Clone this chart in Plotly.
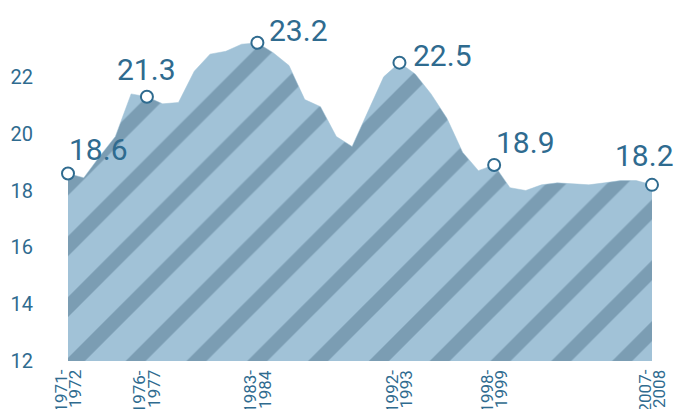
import plotly.graph_objects as go

# ---- data ----
periods = [
    "1971-1972", "1972-1973", "1973-1974", "1974-1975", "1975-1976", "1976-1977",
    "1977-1978", "1978-1979", "1979-1980", "1980-1981", "1981-1982", "1982-1983",
    "1983-1984", "1984-1985", "1985-1986", "1986-1987", "1987-1988", "1988-1989",
    "1989-1990", "1990-1991", "1991-1992", "1992-1993", "1993-1994", "1994-1995",
    "1995-1996", "1996-1997", "1997-1998", "1998-1999", "1999-2000", "2000-2001",
    "2001-2002", "2002-2003", "2002-2003 (b)", "2003-2004", "2004-2005", "2005-2006",
    "2006-2007", "2007-2008",
]
values = [
    18.6, 18.45, 19.2, 19.9, 21.4, 21.3,
    21.05, 21.1, 22.2, 22.8, 22.9, 23.15,
    23.2, 22.85, 22.4, 21.2, 20.95, 19.9,
    19.55, 20.8, 22.0, 22.5, 22.1, 21.4,
    20.55, 19.35, 18.7, 18.9, 18.1, 18.0,
    18.2, 18.27, 18.23, 18.2, 18.27, 18.35,
    18.35, 18.2,
]
highlight_periods = ["1971-1972", "1976-1977", "1983-1984", "1992-1993", "1998-1999", "2007-2008"]
highlight_labels = ["18.6", "21.3", "23.2", "22.5", "18.9", "18.2"]
tick_line1 = ["1971-", "1976-", "1983-", "1992-", "1998-", "2007-"]
tick_line2 = ["1972", "1977", "1984", "1993", "1999", "2008"]
y_ticks = [12, 14, 16, 18, 20, 22]

# label offsets (px) relative to the highlighted point
label_dx = [30, 0, 41, 43, 31, -8]
label_dy = [23.5, 27.5, 12.5, 7, 22.5, 29.5]

DARK = "#2f6b8f"
LIGHT = "#a1c2d7"
STRIPE = "#7b9db3"
FONT = "Roboto, Liberation Sans, sans-serif"

idx = list(range(len(periods)))
h_idx = [periods.index(p) for p in highlight_periods]
h_val = [values[i] for i in h_idx]

fig = go.Figure()
fig.add_trace(go.Scatter(
    x=idx, y=values, mode="lines", fill="tozeroy",
    line=dict(color=LIGHT, width=0.5),
    fillcolor=LIGHT,
    fillpattern=dict(shape="/", fgcolor=STRIPE, bgcolor=LIGHT, fgopacity=1,
                     size=43, solidity=0.33),
    hoverinfo="skip", showlegend=False,
))
fig.add_trace(go.Scatter(
    x=h_idx, y=h_val, mode="markers",
    marker=dict(size=12, color="white", line=dict(color=DARK, width=2)),
    cliponaxis=False, showlegend=False, hoverinfo="skip",
))

annotations = []
for i, lab, dx, dy in zip(h_idx, highlight_labels, label_dx, label_dy):
    annotations.append(dict(
        x=i, y=values[i], xref="x", yref="y", text=lab, showarrow=False,
        xanchor="center", yanchor="middle", xshift=dx, yshift=dy,
        font=dict(family=FONT, size=30, color=DARK),
    ))
for i, l1, l2 in zip(h_idx, tick_line1, tick_line2):
    for txt, sh in ((l1, -8), (l2, 7)):
        annotations.append(dict(
            x=i, y=0, xref="x", yref="paper", text=txt, showarrow=False,
            textangle=-90, xanchor="center", yanchor="top", xshift=sh, yshift=-7,
            font=dict(family=FONT, size=17, color=DARK),
        ))

fig.update_layout(
    width=674, height=409,
    margin=dict(l=68, r=22, t=3, b=48),
    paper_bgcolor="white", plot_bgcolor="white",
    annotations=annotations,
    xaxis=dict(range=[0, 37], showgrid=False, zeroline=False, showticklabels=False,
               showline=False, ticks="", automargin=False),
    yaxis=dict(range=[12, 24.6], tickvals=y_ticks, showgrid=False, zeroline=False,
               showline=False, ticks="", ticklabelstandoff=34, automargin=False,
               tickfont=dict(family=FONT, size=20, color=DARK)),
)
post = "document.body.style.margin='0';"
fig.write_html("out.html", post_script=post, config={"displayModeBar": False})
